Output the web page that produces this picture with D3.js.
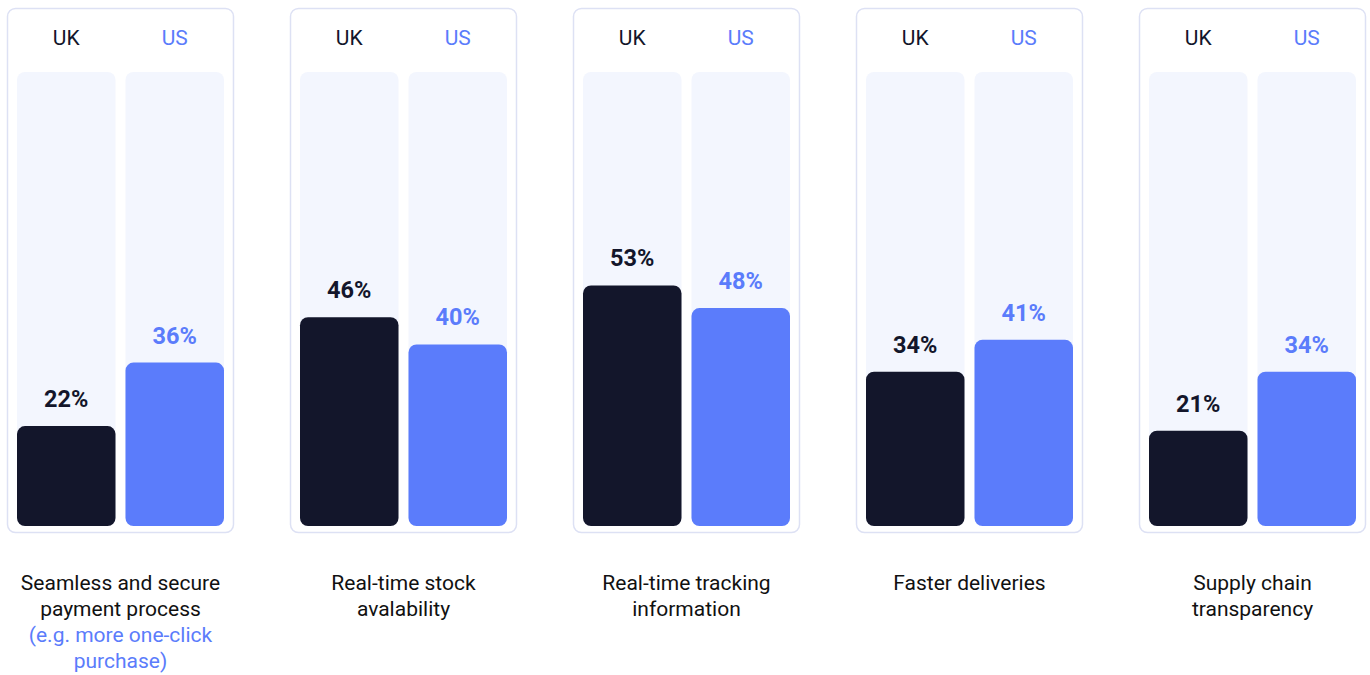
<!DOCTYPE html>
<html>
<head>
<meta charset="utf-8">
<script src="https://cdn.jsdelivr.net/npm/d3@7"></script>
<style>
  html, body { margin: 0; padding: 0; background: #ffffff; }
  svg { display: block; font-family: Roboto, "Noto Sans", sans-serif; }
</style>
</head>
<body>
<svg id="chart" width="1370" height="675"></svg>
<script>
// Survey categories, each with a UK and US share (%)
const categories = [
  ["Seamless and secure", "payment process"],
  ["Real-time stock", "avalability"],
  ["Real-time tracking", "information"],
  ["Faster deliveries"],
  ["Supply chain", "transparency"]
];
const categoryNotes = [
  ["(e.g. more one-click", "purchase)"],
  [], [], [], []
];
const seriesNames = ["UK", "US"];
const ukValues = [22, 46, 53, 34, 21];
const usValues = [36, 40, 48, 41, 34];

const colors = { UK: "#13162b", US: "#5b7cfb" };
const labelColors = { UK: "#13162b", US: "#5b7cfb" };

const svg = d3.select("#chart");

const panelX = d3.scaleBand()
  .domain(d3.range(categories.length))
  .range([7, 1366])
  .paddingInner(0.1979)
  .paddingOuter(0);

const panelTop = 8.5, panelBottom = 532.5;
const trackTop = 72, trackBottom = 526;

const y = d3.scaleLinear().domain([0, 100]).range([trackBottom, trackTop]);

categories.forEach((cat, i) => {
  const g = svg.append("g").attr("transform", `translate(${panelX(i)},0)`);
  const w = panelX.bandwidth();

  g.append("rect")
    .attr("x", 0.5).attr("y", panelTop)
    .attr("width", w - 1).attr("height", panelBottom - panelTop)
    .attr("rx", 8)
    .attr("fill", "#ffffff")
    .attr("stroke", "#dde1f4")
    .attr("stroke-width", 1.5);

  const inner = d3.scaleBand()
    .domain(seriesNames)
    .range([10, w - 10])
    .paddingInner(0.092);

  const vals = { UK: ukValues[i], US: usValues[i] };

  seriesNames.forEach(s => {
    const bx = inner(s), bw = inner.bandwidth();
    // header label
    g.append("text")
      .attr("x", bx + bw / 2).attr("y", 45)
      .attr("text-anchor", "middle")
      .attr("font-size", 21)
      .attr("fill", labelColors[s])
      .text(s);
    // background track
    g.append("rect")
      .attr("x", bx).attr("y", y(100))
      .attr("width", bw).attr("height", y(0) - y(100))
      .attr("rx", 8)
      .attr("fill", "#f3f6fe");
    // value bar
    g.append("rect")
      .attr("x", bx).attr("y", y(vals[s]))
      .attr("width", bw).attr("height", y(0) - y(vals[s]))
      .attr("rx", 8)
      .attr("fill", colors[s]);
    // value label
    g.append("text")
      .attr("x", bx + bw / 2).attr("y", y(vals[s]) - 19)
      .attr("text-anchor", "middle")
      .attr("font-size", 23.5)
      .attr("font-weight", 700)
      .attr("fill", labelColors[s])
      .text(vals[s] + "%");
  });

  // category caption
  const lines = cat.map(t => ({ t, c: "#111111" }))
    .concat(categoryNotes[i].map(t => ({ t, c: "#5b7cfb" })));
  const cap = g.append("text")
    .attr("text-anchor", "middle")
    .attr("font-size", 21);
  lines.forEach((l, k) => {
    cap.append("tspan")
      .attr("x", w / 2)
      .attr("y", 589.5 + k * 26)
      .attr("fill", l.c)
      .text(l.t);
  });
});
</script>
</body>
</html>
